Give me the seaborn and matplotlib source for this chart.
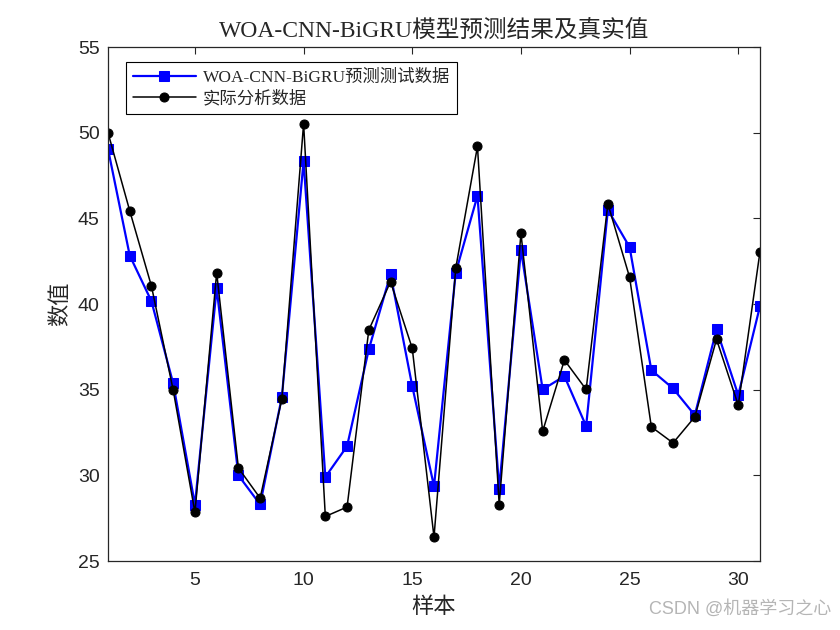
import numpy as np
import pandas as pd
import matplotlib
matplotlib.use("Agg")
import matplotlib.pyplot as plt
import seaborn as sns

samples = list(range(1, 32))
predicted = [49.05, 42.83, 40.16, 35.36, 28.29, 40.92, 30.00, 28.30, 34.58, 48.34,
             29.90, 31.70, 37.35, 41.74, 35.20, 29.36, 41.83, 46.32, 29.22, 43.16,
             35.01, 35.79, 32.87, 45.50, 43.32, 36.14, 35.07, 33.51, 38.52, 34.68, 39.88]
actual = [50.00, 45.44, 41.04, 34.97, 27.84, 41.83, 30.43, 28.67, 34.46, 50.53,
          27.60, 28.15, 38.48, 41.30, 37.41, 26.39, 42.09, 49.20, 28.29, 44.13,
          32.57, 36.73, 35.01, 45.85, 41.56, 32.83, 31.89, 33.41, 37.94, 34.09, 43.06]
label_pred = "WOA-CNN-BiGRU预测测试数据"
label_act = "实际分析数据"
title = "WOA-CNN-BiGRU模型预测结果及真实值"
xlabel = "样本"
ylabel = "数值"
xticks = [5, 10, 15, 20, 25, 30]
yticks = [25, 30, 35, 40, 45, 50, 55]

sns.set_style("white")
serif_cjk = ['Liberation Serif', 'Noto Sans CJK SC']
plt.rcParams['font.family'] = ['Liberation Sans', 'DejaVu Sans']

df = pd.DataFrame({"x": samples, "pred": predicted, "act": actual})

fig = plt.figure(figsize=(8.4, 6.3), dpi=100)
ax = fig.add_axes([108/840, 1 - 561/630, (760-108)/840, (561-47)/630])

sns.lineplot(data=df, x="x", y="pred", ax=ax, color="#0000ff", linewidth=1.6,
             marker="s", markersize=7, markeredgecolor="#0000ff", label=label_pred)
sns.lineplot(data=df, x="x", y="act", ax=ax, color="black", linewidth=1.1,
             marker="o", markersize=6.5, markeredgecolor="black", label=label_act)

ax.set_xlim(1, 31)
ax.set_ylim(25, 55)
ax.set_xticks(xticks)
ax.set_yticks(yticks)
ax.tick_params(direction="in", length=5, width=0.8, labelsize=14, colors="#262626",
               top=True, right=True, labelcolor="#262626")
ax.tick_params(axis="x", pad=8)
ax.tick_params(axis="y", pad=6)
for s in ax.spines.values():
    s.set_linewidth(0.9)
    s.set_color("#262626")

ax.set_title(title, family=serif_cjk, fontsize=17, pad=7)
ax.set_xlabel(xlabel, family=serif_cjk, fontsize=16, labelpad=6)
ax.set_ylabel(ylabel, family=serif_cjk, fontsize=16, labelpad=5)

leg = ax.legend(loc="upper left", bbox_to_anchor=(0.02, 0.98), prop={'family': serif_cjk, 'size': 12.5},
                fancybox=False, framealpha=1, edgecolor="black", borderpad=0.4,
                handlelength=3.6, handletextpad=0.4, labelspacing=0.3, borderaxespad=0.3)
leg.get_frame().set_linewidth(0.8)

fig.text(0.99, 0.02, "CSDN @机器学习之心", ha="right", va="bottom", fontsize=13,
         color="#b5b5b5", family=['Liberation Sans', 'Noto Sans CJK SC'])

fig.savefig("out.png", dpi=100)
